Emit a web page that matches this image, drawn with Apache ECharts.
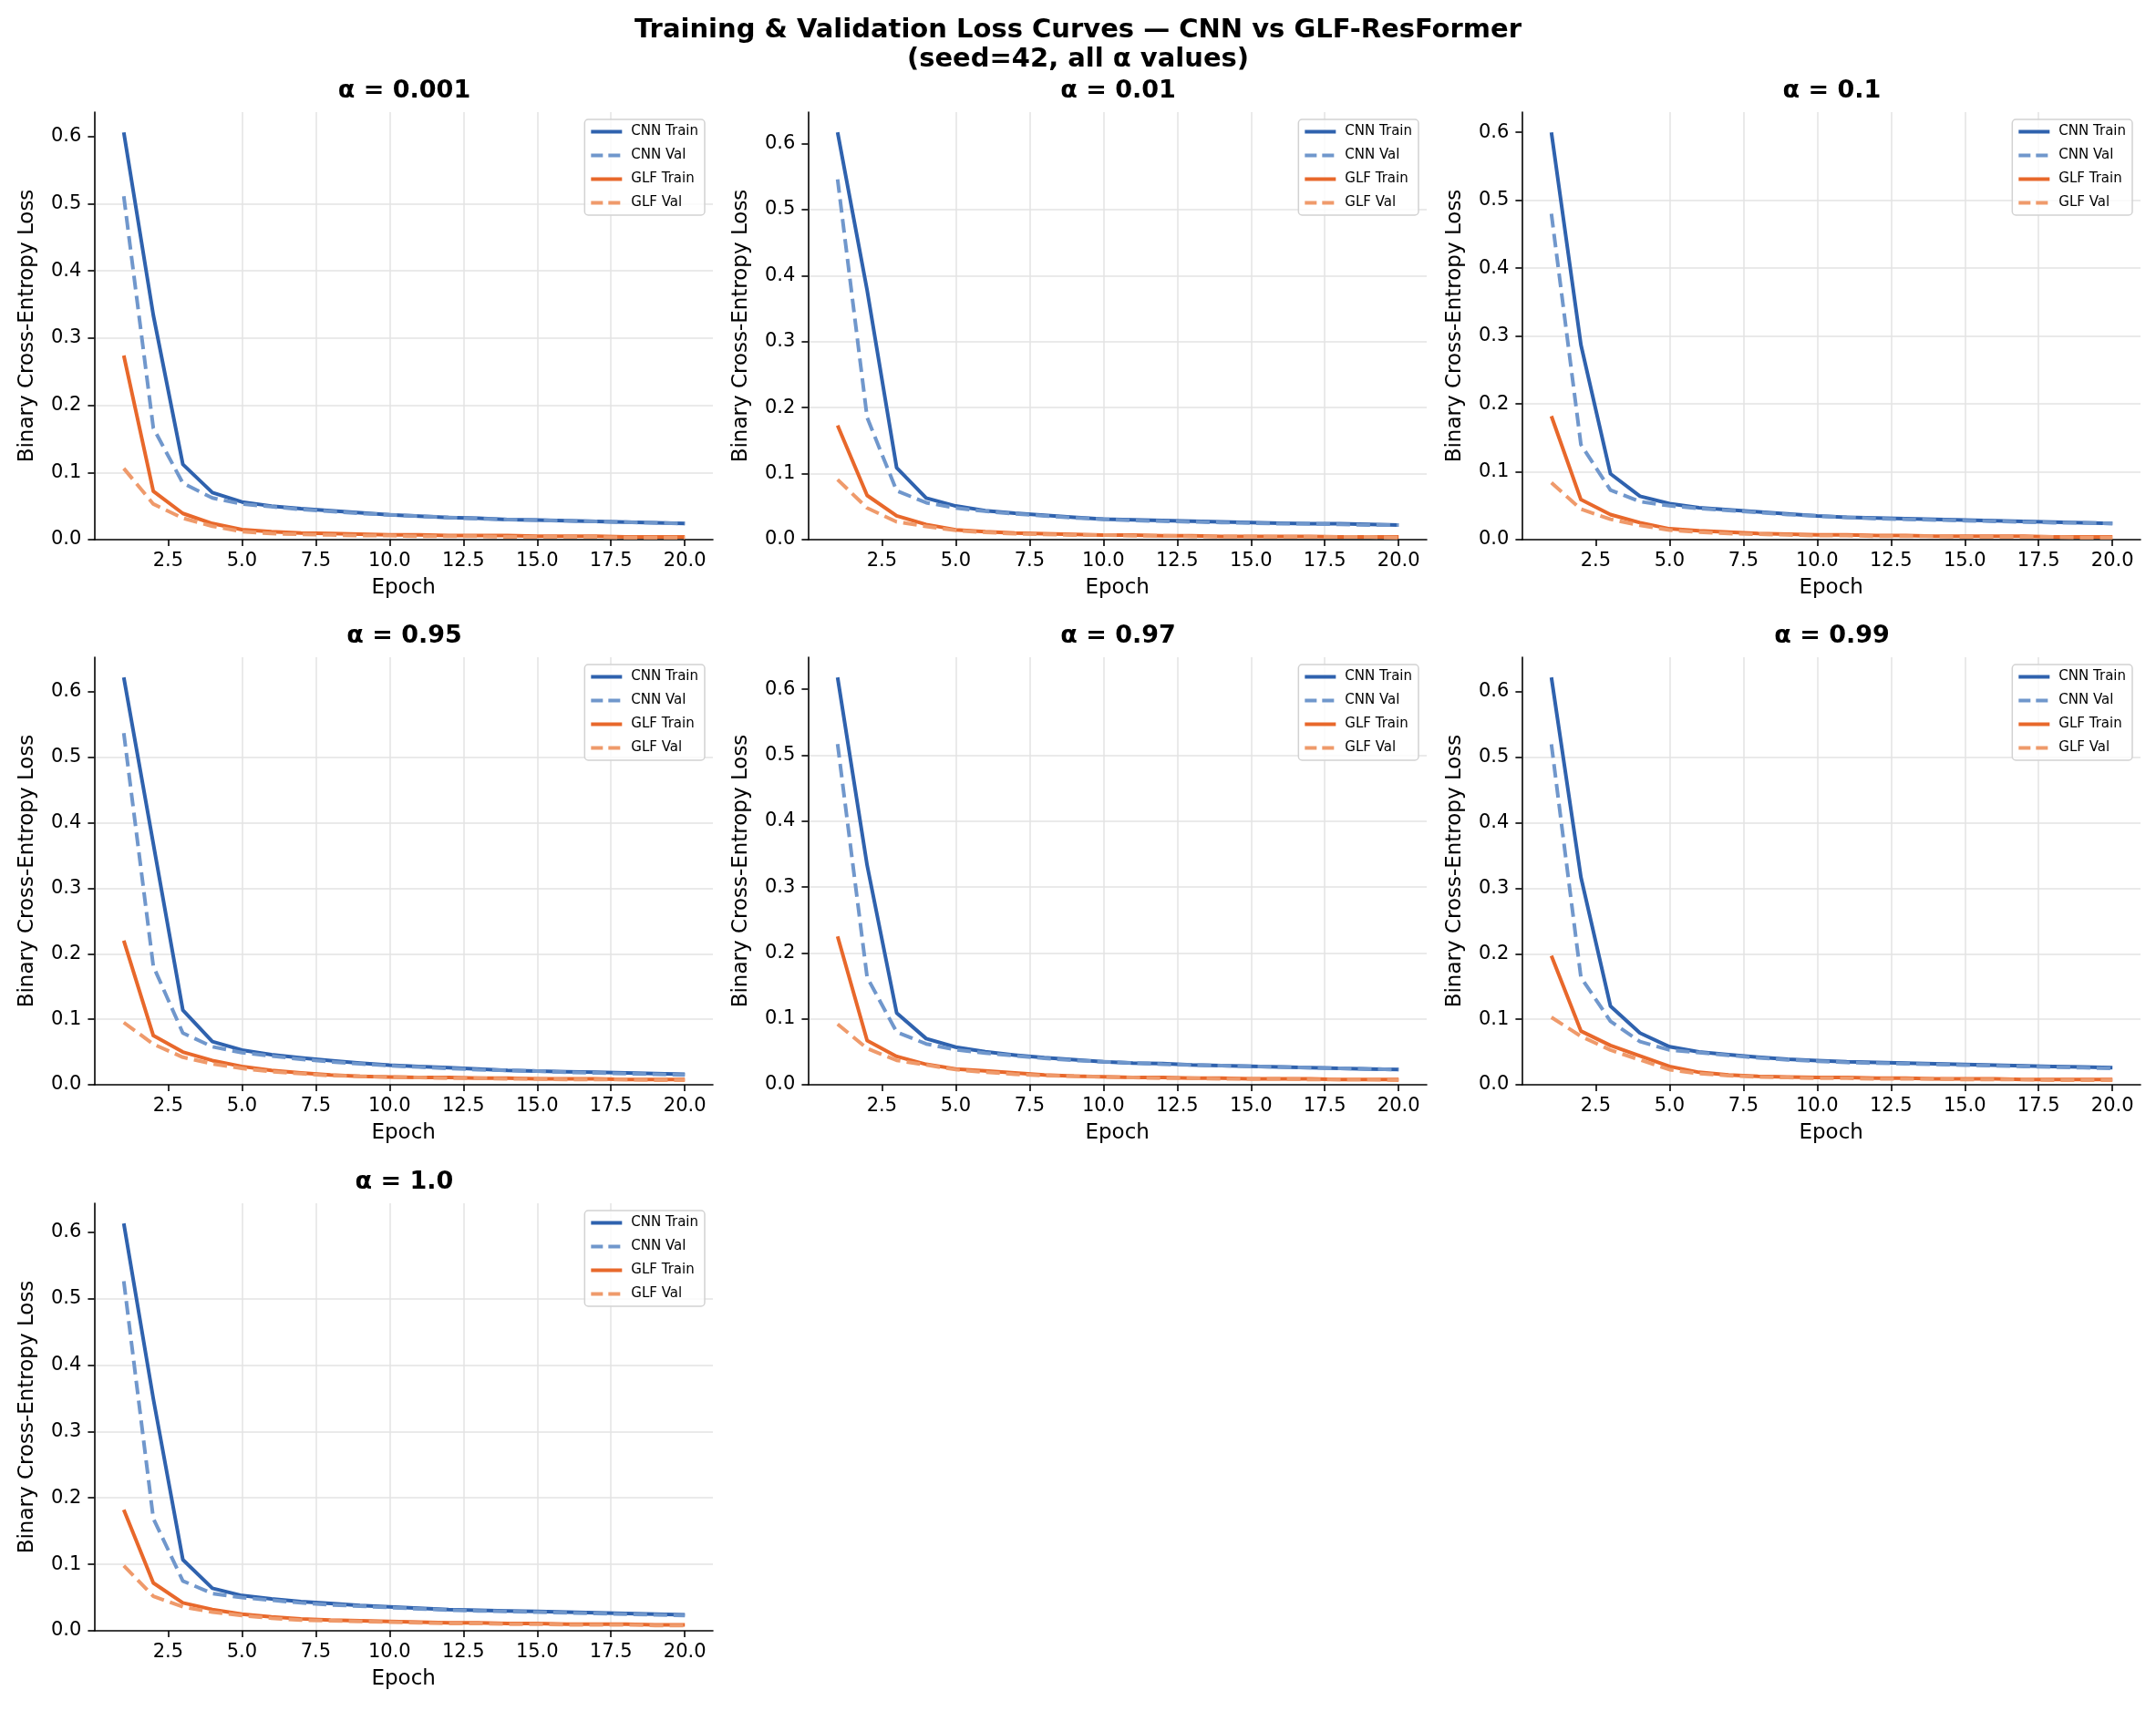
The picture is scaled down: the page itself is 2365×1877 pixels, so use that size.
<!DOCTYPE html>
<html>
<head>
<meta charset="utf-8">
<script src="https://cdn.jsdelivr.net/npm/echarts@6/dist/echarts.min.js"></script>
<style>
  html, body { margin: 0; padding: 0; background: #fff; }
  #chart { width: 2365px; height: 1877px; }
</style>
</head>
<body>
<div id="chart"></div>
<script>
// values, one row per alpha panel
const alphas = ['0.001', '0.01', '0.1', '0.95', '0.97', '0.99', '1.0'];
const epochs = [1, 2, 3, 4, 5, 6, 7, 8, 9, 10, 11, 12, 13, 14, 15, 16, 17, 18, 19, 20];
const xTicks = [2.5, 5, 7.5, 10, 12.5, 15, 17.5, 20];
const yTicks = [0, 0.1, 0.2, 0.3, 0.4, 0.5, 0.6];

const cnnTrain = [
  [0.606, 0.334, 0.112, 0.070, 0.056, 0.050, 0.046, 0.043, 0.040, 0.037, 0.035, 0.033, 0.032, 0.030, 0.029, 0.028, 0.027, 0.026, 0.025, 0.024],
  [0.617, 0.378, 0.109, 0.063, 0.051, 0.044, 0.040, 0.037, 0.034, 0.031, 0.030, 0.029, 0.028, 0.027, 0.026, 0.025, 0.024, 0.024, 0.023, 0.022],
  [0.600, 0.287, 0.097, 0.064, 0.053, 0.047, 0.044, 0.041, 0.038, 0.035, 0.033, 0.032, 0.031, 0.030, 0.029, 0.028, 0.027, 0.026, 0.025, 0.024],
  [0.622, 0.368, 0.114, 0.066, 0.053, 0.046, 0.041, 0.037, 0.033, 0.030, 0.028, 0.026, 0.024, 0.022, 0.021, 0.020, 0.019, 0.018, 0.017, 0.016],
  [0.618, 0.333, 0.109, 0.070, 0.057, 0.050, 0.045, 0.041, 0.038, 0.035, 0.033, 0.032, 0.030, 0.029, 0.028, 0.027, 0.026, 0.025, 0.024, 0.023],
  [0.622, 0.317, 0.120, 0.079, 0.058, 0.050, 0.046, 0.042, 0.039, 0.037, 0.035, 0.034, 0.033, 0.032, 0.031, 0.030, 0.029, 0.028, 0.027, 0.026],
  [0.613, 0.349, 0.107, 0.064, 0.053, 0.048, 0.044, 0.041, 0.038, 0.036, 0.034, 0.032, 0.031, 0.030, 0.029, 0.028, 0.027, 0.026, 0.025, 0.024]
];
const cnnVal = [
  [0.511, 0.166, 0.084, 0.062, 0.053, 0.049, 0.045, 0.042, 0.039, 0.037, 0.035, 0.033, 0.031, 0.030, 0.029, 0.028, 0.027, 0.026, 0.025, 0.024],
  [0.546, 0.185, 0.074, 0.056, 0.048, 0.043, 0.039, 0.036, 0.033, 0.031, 0.029, 0.028, 0.027, 0.026, 0.025, 0.024, 0.024, 0.023, 0.022, 0.022],
  [0.480, 0.140, 0.073, 0.056, 0.050, 0.046, 0.043, 0.040, 0.037, 0.035, 0.033, 0.031, 0.030, 0.029, 0.028, 0.027, 0.026, 0.025, 0.025, 0.024],
  [0.537, 0.181, 0.079, 0.058, 0.049, 0.044, 0.039, 0.035, 0.032, 0.029, 0.027, 0.025, 0.023, 0.022, 0.021, 0.019, 0.018, 0.017, 0.016, 0.015],
  [0.517, 0.163, 0.080, 0.062, 0.053, 0.048, 0.044, 0.040, 0.037, 0.035, 0.033, 0.031, 0.030, 0.029, 0.028, 0.027, 0.026, 0.025, 0.024, 0.023],
  [0.520, 0.164, 0.097, 0.066, 0.053, 0.049, 0.045, 0.041, 0.038, 0.036, 0.034, 0.033, 0.032, 0.031, 0.030, 0.029, 0.028, 0.027, 0.026, 0.025],
  [0.526, 0.169, 0.075, 0.056, 0.050, 0.046, 0.042, 0.039, 0.037, 0.035, 0.033, 0.031, 0.030, 0.029, 0.028, 0.027, 0.026, 0.025, 0.024, 0.023]
];
const glfTrain = [
  [0.274, 0.072, 0.039, 0.024, 0.015, 0.012, 0.010, 0.009, 0.008, 0.007, 0.007, 0.006, 0.006, 0.006, 0.005, 0.005, 0.005, 0.004, 0.004, 0.004],
  [0.173, 0.067, 0.036, 0.023, 0.015, 0.012, 0.010, 0.009, 0.008, 0.007, 0.007, 0.006, 0.006, 0.005, 0.005, 0.005, 0.005, 0.004, 0.004, 0.004],
  [0.182, 0.059, 0.037, 0.025, 0.016, 0.013, 0.011, 0.009, 0.008, 0.007, 0.007, 0.006, 0.006, 0.005, 0.005, 0.005, 0.005, 0.004, 0.004, 0.004],
  [0.220, 0.075, 0.050, 0.037, 0.028, 0.022, 0.018, 0.015, 0.013, 0.012, 0.011, 0.011, 0.010, 0.010, 0.009, 0.009, 0.009, 0.008, 0.008, 0.008],
  [0.225, 0.067, 0.043, 0.031, 0.024, 0.021, 0.018, 0.015, 0.013, 0.012, 0.011, 0.011, 0.010, 0.010, 0.009, 0.009, 0.009, 0.008, 0.008, 0.008],
  [0.197, 0.082, 0.060, 0.044, 0.028, 0.019, 0.015, 0.013, 0.012, 0.011, 0.011, 0.010, 0.010, 0.009, 0.009, 0.009, 0.008, 0.008, 0.008, 0.008],
  [0.182, 0.072, 0.042, 0.032, 0.025, 0.021, 0.018, 0.016, 0.015, 0.014, 0.013, 0.012, 0.012, 0.011, 0.011, 0.010, 0.010, 0.010, 0.009, 0.009]
];
const glfVal = [
  [0.106, 0.053, 0.032, 0.020, 0.012, 0.009, 0.008, 0.007, 0.006, 0.006, 0.005, 0.005, 0.005, 0.004, 0.004, 0.004, 0.004, 0.003, 0.003, 0.003],
  [0.091, 0.048, 0.027, 0.020, 0.014, 0.011, 0.009, 0.008, 0.007, 0.007, 0.006, 0.006, 0.005, 0.005, 0.005, 0.004, 0.004, 0.004, 0.004, 0.003],
  [0.084, 0.045, 0.030, 0.021, 0.014, 0.011, 0.009, 0.008, 0.007, 0.006, 0.006, 0.005, 0.005, 0.005, 0.004, 0.004, 0.004, 0.004, 0.003, 0.003],
  [0.095, 0.062, 0.042, 0.032, 0.025, 0.020, 0.017, 0.014, 0.013, 0.012, 0.011, 0.010, 0.010, 0.009, 0.009, 0.008, 0.008, 0.008, 0.007, 0.007],
  [0.092, 0.055, 0.037, 0.030, 0.023, 0.019, 0.016, 0.014, 0.013, 0.012, 0.011, 0.010, 0.010, 0.009, 0.009, 0.009, 0.008, 0.008, 0.008, 0.007],
  [0.103, 0.074, 0.053, 0.038, 0.023, 0.017, 0.014, 0.012, 0.011, 0.010, 0.010, 0.009, 0.009, 0.009, 0.008, 0.008, 0.008, 0.007, 0.007, 0.007],
  [0.098, 0.052, 0.036, 0.028, 0.023, 0.019, 0.016, 0.015, 0.014, 0.013, 0.012, 0.011, 0.011, 0.010, 0.010, 0.009, 0.009, 0.009, 0.008, 0.008]
];

const FONT = 'DejaVu Sans';
const W = 2365;
const colLeft = [103.4, 886.4, 1669.4];
const rowTop = [123, 721, 1320];
const gridW = 678.6;
const gridH = 469;

const seriesDefs = [
  { name: 'CNN Train', src: cnnTrain, color: '#2f62ae', dash: 'solid' },
  { name: 'CNN Val',   src: cnnVal,   color: '#7097cc', dash: [15, 7] },
  { name: 'GLF Train', src: glfTrain, color: '#e8682b', dash: 'solid' },
  { name: 'GLF Val',   src: glfVal,   color: '#ef9a6b', dash: [15, 7] }
];

const grids = [], xAxes = [], yAxes = [], series = [], legends = [];
const titles = [{
  text: 'Training & Validation Loss Curves — CNN vs GLF-ResFormer\n(seed=42, all α values)',
  left: 'center',
  top: 17,
  padding: 0,
  textStyle: { fontFamily: FONT, fontSize: 29, fontWeight: 'bold', color: '#000', lineHeight: 32 }
}];

const axisLineStyle = { color: '#000', width: 1.6 };

alphas.forEach((a, i) => {
  const left = colLeft[i % 3];
  const top = rowTop[Math.floor(i / 3)];

  // y extent like matplotlib autoscale: 5% margin above data max, floor at 0
  let hi = -Infinity, lo = Infinity;
  seriesDefs.forEach(d => d.src[i].forEach(v => { hi = Math.max(hi, v); lo = Math.min(lo, v); }));
  const yMax = hi + 0.05 * (hi - lo);

  grids.push({ left: left, top: top, width: gridW, height: gridH });

  xAxes.push({
    gridIndex: i, type: 'value', min: 0, max: 20.95, interval: 2.5,
    name: 'Epoch', nameLocation: 'middle', nameGap: 42,
    nameTextStyle: { fontFamily: FONT, fontSize: 23, color: '#000' },
    axisLine: { show: true, onZero: false, lineStyle: axisLineStyle },
    axisTick: { show: true, inside: false, length: 7, customValues: xTicks, lineStyle: axisLineStyle },
    axisLabel: { customValues: xTicks, formatter: v => v.toFixed(1), fontFamily: FONT, fontSize: 21, color: '#000', margin: 13 },
    splitLine: { show: true, showMinLine: false, showMaxLine: false, lineStyle: { color: '#e3e3e3', width: 1.5 } }
  });

  yAxes.push({
    gridIndex: i, type: 'value', min: 0, max: yMax, interval: 0.1,
    name: 'Binary Cross-Entropy Loss', nameLocation: 'middle', nameGap: 62,
    nameTextStyle: { fontFamily: FONT, fontSize: 23, color: '#000' },
    axisLine: { show: true, lineStyle: axisLineStyle },
    axisTick: { show: true, inside: false, length: 7, customValues: yTicks, lineStyle: axisLineStyle },
    axisLabel: { customValues: yTicks, formatter: v => v.toFixed(1), fontFamily: FONT, fontSize: 21, color: '#000', margin: 14 },
    splitLine: { show: true, showMinLine: false, showMaxLine: false, lineStyle: { color: '#e3e3e3', width: 1.5 } }
  });

  titles.push({
    text: 'α = ' + a,
    left: left + gridW / 2 + 0.8,
    textAlign: 'center',
    top: top - 37,
    padding: 0,
    textStyle: { fontFamily: FONT, fontSize: 27, fontWeight: 'bold', color: '#000' }
  });

  seriesDefs.forEach(d => {
    series.push({
      name: d.name, type: 'line',
      xAxisIndex: i, yAxisIndex: i,
      data: epochs.map((e, k) => [e, d.src[i][k]]),
      symbol: 'none', showSymbol: false, silent: true,
      lineStyle: { color: d.color, width: 4, type: d.dash, cap: 'butt', join: 'round' },
      itemStyle: { color: d.color }
    });
  });

  legends.push({
    data: seriesDefs.map(d => ({
      name: d.name,
      lineStyle: { color: d.color, width: 4, type: d.dash === 'solid' ? 'solid' : [13, 6] }
    })),
    orient: 'vertical',
    right: W - (left + gridW - 9),
    top: top + 8,
    itemWidth: 34, itemHeight: 14, itemGap: 11,
    padding: [6, 7, 6, 5],
    backgroundColor: 'rgba(255,255,255,0.8)',
    borderColor: '#d2d2d2', borderWidth: 1.5, borderRadius: 4,
    selectedMode: false,
    itemStyle: { opacity: 0, borderWidth: 0 },
    textStyle: { fontFamily: FONT, fontSize: 15, color: '#000', padding: [0, 0, 0, 5] }
  });
});

const chart = echarts.init(document.getElementById('chart'), null, { renderer: 'canvas' });
chart.setOption({
  backgroundColor: '#fff',
  animation: false,
  title: titles,
  legend: legends,
  grid: grids,
  xAxis: xAxes,
  yAxis: yAxes,
  series: series
});
</script>
</body>
</html>
